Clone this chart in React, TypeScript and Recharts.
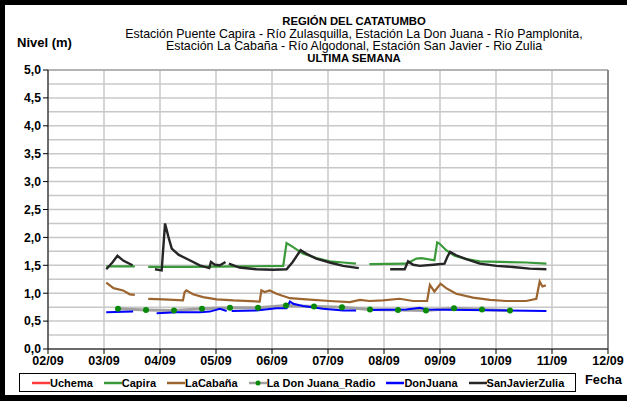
import React from "react";
import { LineChart, Line, XAxis, YAxis, CartesianGrid, ReferenceLine } from "recharts";

// Time is expressed in days after 02/09 00:00
const xTickLabels = ["02/09", "03/09", "04/09", "05/09", "06/09", "07/09", "08/09", "09/09", "10/09", "11/09", "12/09"];
const xTickValues = [0, 1, 2, 3, 4, 5, 6, 7, 8, 9, 10];
const yTickValues = [0, 0.5, 1, 1.5, 2, 2.5, 3, 3.5, 4, 4.5, 5];
const yGridValues = [0, 0.25, 0.5, 0.75, 1, 1.25, 1.5, 1.75, 2, 2.25, 2.5, 2.75, 3, 3.25, 3.5, 3.75, 4, 4.25, 4.5, 4.75, 5];

const uchemaT: number[] = [];
const uchemaV: (number | null)[] = [];

const capiraT = [1.04, 1.55, 1.67, 1.79, 2.5, 3.5, 4.2, 4.26, 4.37, 4.55, 4.79, 5.03, 5.27, 5.5, 5.62, 5.74, 6.4, 6.58, 6.67, 6.9, 6.95, 6.99, 7.11, 7.26, 7.47, 7.71, 8.07, 8.54, 8.9];
const capiraV = [1.48, 1.48, null, 1.47, 1.47, 1.48, 1.49, 1.9, 1.83, 1.71, 1.63, 1.57, 1.55, 1.53, null, 1.52, 1.53, 1.62, 1.63, 1.59, 1.91, 1.89, 1.77, 1.67, 1.61, 1.57, 1.56, 1.55, 1.53];

const cabanaT = [1.04, 1.17, 1.34, 1.46, 1.55, 1.67, 1.79, 2.06, 2.41, 2.44, 2.47, 2.59, 2.77, 3.01, 3.31, 3.78, 3.81, 3.87, 3.96, 4.08, 4.32, 4.61, 5.03, 5.39, 5.57, 5.74, 5.98, 6.28, 6.52, 6.77, 6.82, 6.9, 7.01, 7.11, 7.29, 7.59, 7.89, 8.18, 8.54, 8.72, 8.78, 8.83, 8.89];
const cabanaV = [1.19, 1.09, 1.05, 0.98, 0.97, null, 0.9, 0.89, 0.87, 1.02, 1.05, 0.98, 0.93, 0.89, 0.87, 0.85, 1.05, 1.02, 1.05, 0.99, 0.91, 0.89, 0.86, 0.84, 0.88, 0.86, 0.87, 0.9, 0.86, 0.86, 1.15, 1.03, 1.17, 1.09, 0.99, 0.92, 0.88, 0.86, 0.86, 0.9, 1.21, 1.12, 1.14];

const radioT = [1.25, 1.75, 2.25, 2.75, 3.25, 3.75, 4.25, 4.75, 5.25, 5.75, 6.25, 6.75, 7.25, 7.75, 8.25];
const radioV = [0.72, 0.7, 0.69, 0.72, 0.74, 0.74, 0.78, 0.76, 0.75, 0.71, 0.7, 0.69, 0.73, 0.71, 0.69];

const donJuanaT = [1.04, 1.52, 1.7, 1.94, 2.3, 2.71, 2.89, 3.07, 3.19, 3.23, 3.28, 3.72, 4.08, 4.26, 4.32, 4.38, 4.55, 4.91, 5.27, 5.5, 5.62, 5.74, 6.4, 6.64, 6.76, 7.5, 8.9];
const donJuanaV = [0.66, 0.67, null, 0.64, 0.66, 0.66, 0.67, 0.72, 0.68, null, 0.68, 0.69, 0.73, 0.73, 0.85, 0.81, 0.77, 0.72, 0.69, 0.69, null, 0.7, 0.71, 0.74, 0.71, 0.7, 0.68];

const sanJavierT = [1.04, 1.15, 1.24, 1.35, 1.51, 1.7, 1.91, 2.03, 2.09, 2.15, 2.21, 2.33, 2.53, 2.71, 2.88, 2.91, 2.98, 3.07, 3.17, 3.2, 3.23, 3.42, 3.72, 4.02, 4.26, 4.37, 4.51, 4.61, 4.79, 5.03, 5.27, 5.55, 5.8, 6.11, 6.37, 6.43, 6.52, 6.64, 6.88, 7.08, 7.13, 7.18, 7.29, 7.47, 7.71, 8.01, 8.3, 8.6, 8.9];
const sanJavierV = [1.43, 1.55, 1.67, 1.58, 1.5, null, 1.43, 1.41, 2.25, 2.01, 1.8, 1.69, 1.59, 1.5, 1.45, 1.56, 1.51, 1.5, 1.56, null, 1.53, 1.46, 1.43, 1.42, 1.43, 1.56, 1.77, 1.71, 1.62, 1.55, 1.49, 1.45, null, 1.43, 1.43, 1.57, 1.51, 1.49, 1.51, 1.53, 1.65, 1.74, 1.68, 1.61, 1.53, 1.49, 1.47, 1.44, 1.43];

const titleLines = [
  "REGIÓN DEL CATATUMBO",
  "Estación Puente Capira - Río Zulasquilla, Estación La Don Juana - Río Pamplonita,",
  "Estación La Cabaña - Río Algodonal, Estación San Javier - Rio Zulia",
  "ULTIMA SEMANA",
];

const zip = (t: number[], v: (number | null)[]) => t.map((x, i) => ({ t: x, v: v[i] }));

const series = [
  { name: "Uchema", data: zip(uchemaT, uchemaV), color: "#ff3b3b", width: 2, dot: false as any },
  { name: "Capira", data: zip(capiraT, capiraV), color: "#3a9a3a", width: 2.2, dot: false as any },
  { name: "LaCabaña", data: zip(cabanaT, cabanaV), color: "#9c6530", width: 2.2, dot: false as any },
  { name: "La Don Juana_Radio", data: zip(radioT, radioV), color: "#a0a0a0", width: 3, dot: { r: 3, fill: "#0a8a0a", stroke: "#0a8a0a", strokeWidth: 0 } },
  { name: "DonJuana", data: zip(donJuanaT, donJuanaV), color: "#0000ff", width: 2, dot: false as any },
  { name: "SanJavierZulia", data: zip(sanJavierT, sanJavierV), color: "#262626", width: 2.4, dot: false as any },
];

const FONT = "'Liberation Sans', Arial, sans-serif";
const titleY = [21, 33.5, 46, 57.5];

export default function App() {
  const drawOrder = [series[3], series[0], series[2], series[1], series[4], series[5]];
  return (
    <div style={{ position: "absolute", left: 0, top: 0, width: 627, height: 401, background: "#fff", fontFamily: FONT, overflow: "hidden" }}>
      <div style={{ position: "absolute", left: 0, top: 0, width: 627, height: 401, boxSizing: "border-box", borderTop: "5px solid #000", borderLeft: "5px solid #000", borderBottom: "6px solid #000" }} />
      {titleLines.map((s, i) => {
        const bold = i === 0 || i === 3;
        return (
          <div key={i} style={{ position: "absolute", left: 54, width: 600, top: titleY[i] - 6, height: 12, lineHeight: "12px", textAlign: "center", whiteSpace: "nowrap", fontSize: bold ? 11.3 : 12.4, fontWeight: bold ? "bold" : "normal", color: "#000" }}>
            {s}
          </div>
        );
      })}
      <div style={{ position: "absolute", left: 17, top: 36, lineHeight: "14px", fontSize: 13, fontWeight: "bold" }}>Nivel (m)</div>
      <div style={{ position: "absolute", left: 585, top: 373, lineHeight: "14px", fontSize: 12.8, fontWeight: "bold" }}>Fecha</div>
      <LineChart width={627} height={401} margin={{ top: 70, right: 19, left: 0, bottom: 32 }} style={{ position: "absolute", left: 0, top: 0 }}>
        <CartesianGrid stroke="#c8c8c8" strokeWidth={1.5} horizontalValues={yGridValues} verticalValues={xTickValues} />
        <ReferenceLine y={5} stroke="#a8a8a8" strokeWidth={1.5} />
        <ReferenceLine x={10} stroke="#8a8a8a" strokeWidth={2} />
        <XAxis
          dataKey="t"
          type="number"
          domain={[0, 10]}
          ticks={xTickValues}
          tickFormatter={(v: number) => xTickLabels[v]}
          height={20}
          tickSize={5}
          tickMargin={2}
          stroke="#000"
          tick={{ fill: "#000", fontSize: 12.5, fontWeight: "bold", fontFamily: FONT }}
          allowDuplicatedCategory={false}
          interval={0}
        />
        <YAxis
          type="number"
          domain={[0, 5]}
          ticks={yTickValues}
          tickFormatter={(v: number) => v.toFixed(1).replace(".", ",")}
          width={48}
          tickSize={5}
          tickMargin={2}
          stroke="#000"
          tick={{ fill: "#000", fontSize: 12.2, fontWeight: "bold", fontFamily: FONT }}
          interval={0}
        />
        {drawOrder.map((s) => (
          <Line
            key={s.name}
            data={s.data}
            dataKey="v"
            name={s.name}
            type="linear"
            stroke={s.color}
            strokeWidth={s.width}
            dot={s.dot}
            activeDot={false}
            connectNulls={false}
            isAnimationActive={false}
          />
        ))}
      </LineChart>
      <div style={{ position: "absolute", left: 19, top: 373, width: 557, height: 19, boxSizing: "border-box", border: "1px solid #000", display: "flex", alignItems: "center", paddingLeft: 12, gap: 11, fontSize: 11, fontWeight: "bold", whiteSpace: "nowrap" }}>
        {series.map((s) => (
          <div key={s.name} style={{ display: "flex", alignItems: "center" }}>
            <svg width={18} height={10} style={{ display: "block" }}>
              <line x1={0} y1={5} x2={18} y2={5} stroke={s.color} strokeWidth={2.5} />
              {s.dot ? <circle cx={9} cy={5} r={2.5} fill="#0a8a0a" /> : null}
            </svg>
            <span>{s.name}</span>
          </div>
        ))}
      </div>
    </div>
  );
}
